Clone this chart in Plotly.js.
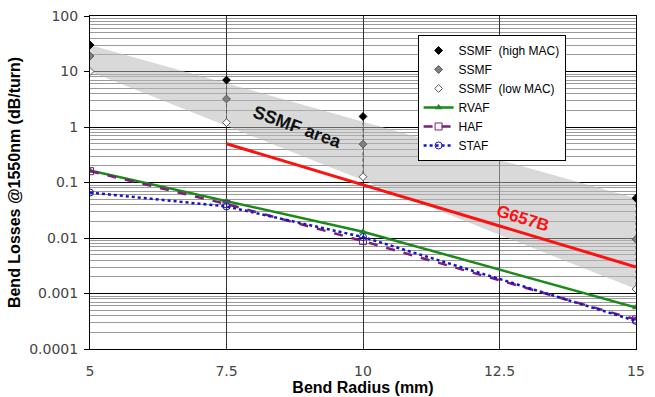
<!DOCTYPE html>
<html><head><meta charset="utf-8">
<script src="https://cdn.plot.ly/plotly-3.0.1.min.js"></script>
<style>html,body{margin:0;padding:0;background:#fff}#chart{width:655px;height:397px}</style>
</head><body><div id="chart"></div>
<script>
// Data
const radius = [5, 7.5, 10, 15];
const ssmfHighMAC = [30, 7.0, 1.55, 0.052];
const ssmf = [19, 3.2, 0.49, 0.0095];
const ssmfLowMAC = [10, 1.2, 0.127, 0.0012];
const rvaf = [0.165, 0.046, 0.013, 0.00056];
const haf = [0.16, 0.041, 0.0088, 0.00034];
const staf = [0.066, 0.037, 0.0104, 0.00032];
const g657bX = [7.5, 15];
const g657b = [0.5, 0.003];
const bandX = [5, 15];
const bandHigh = [30, 0.052];
const bandLow = [10, 0.0012];
const xTicks = [5, 7.5, 10, 12.5, 15];
const xTickText = ['5', '7.5', '10', '12.5', '15'];
const yTicks = [0.0001, 0.001, 0.01, 0.1, 1, 10, 100];
const yTickText = ['0.0001', '0.001', '0.01', '0.1', '1', '10', '100'];

// hi-lo connector lines between SSMF markers
const hlX = [], hlY = [];
radius.forEach((r, i) => { if (i > 0) { hlX.push(r, r, null); hlY.push(ssmfHighMAC[i], ssmfLowMAC[i], null); } });

const traces = [
  { x: bandX.concat(bandX.slice().reverse()), y: bandHigh.concat(bandLow.slice().reverse()),
    fill: 'toself', fillcolor: 'rgba(185,185,185,0.55)', line: {width: 0}, mode: 'lines',
    hoverinfo: 'skip', showlegend: false },
  { x: hlX, y: hlY, mode: 'lines', line: {color: '#555', width: 1, dash: 'dot'}, showlegend: false, hoverinfo: 'skip' },
  { x: g657bX, y: g657b, mode: 'lines', line: {color: '#ff1010', width: 3}, showlegend: false },
  { x: radius, y: ssmfHighMAC, name: 'SSMF  (high MAC)', mode: 'markers',
    marker: {symbol: 'diamond', size: 6, color: '#000', line: {color: '#000', width: 1}} },
  { x: radius, y: ssmf, name: 'SSMF', mode: 'markers',
    marker: {symbol: 'diamond', size: 6, color: '#808080', line: {color: '#555', width: 1}} },
  { x: radius, y: ssmfLowMAC, name: 'SSMF  (low MAC)', mode: 'markers',
    marker: {symbol: 'diamond', size: 6, color: '#fff', line: {color: '#555', width: 1}} },
  { x: radius, y: rvaf, name: 'RVAF', mode: 'lines+markers',
    line: {color: '#1a8a1a', width: 2.5}, marker: {symbol: 'triangle-up', size: 7, color: '#1a8a1a'} },
  { x: radius, y: haf, name: 'HAF', mode: 'lines+markers',
    line: {color: '#7a1f7a', width: 2.5, dash: 'dash'}, marker: {symbol: 'square-open', size: 7, color: '#7a1f7a'} },
  { x: radius, y: staf, name: 'STAF', mode: 'lines+markers',
    line: {color: '#1414c8', width: 2.5, dash: 'dot'}, marker: {symbol: 'circle-open', size: 7, color: '#1414c8'} }
];

const layout = {
  width: 655, height: 397,
  margin: {l: 90, r: 19, t: 16, b: 48},
  paper_bgcolor: '#fff', plot_bgcolor: '#fff',
  font: {family: 'Arial, Liberation Sans, sans-serif', color: '#000'},
  showlegend: true,
  legend: {x: 0.6, y: 0.943, xanchor: 'left', yanchor: 'top', bgcolor: '#fff',
    bordercolor: '#000', borderwidth: 1, font: {size: 12, color: '#000'}, itemwidth: 30},
  xaxis: {
    range: [5, 15], tickvals: xTicks, ticktext: xTickText,
    showgrid: true, gridcolor: '#333', gridwidth: 1,
    showline: true, linecolor: '#000', linewidth: 1, mirror: true,
    ticks: '', ticklabelstandoff: 9, zeroline: false,
    tickfont: {family: 'DejaVu Sans, sans-serif', size: 14, color: '#444'},
    title: {text: '<b>Bend Radius (mm)</b>', font: {size: 16, color: '#000'}, standoff: 0}
  },
  yaxis: {
    type: 'log', range: [-4, 2], tickvals: yTicks, ticktext: yTickText,
    showgrid: true, gridcolor: '#000', gridwidth: 1,
    showline: true, linecolor: '#000', linewidth: 1, mirror: true,
    ticks: 'outside', ticklen: 5, tickcolor: '#000', ticklabelstandoff: 3,
    tickfont: {family: 'DejaVu Sans, sans-serif', size: 14, color: '#444'},
    minor: {showgrid: true, gridcolor: '#9a9a9a', gridwidth: 1, dtick: 'D1', ticks: ''},
    title: {text: '<b>Bend Losses @1550nm (dB/turn)</b>', font: {size: 16, color: '#000'}, standoff: 4}
  },
  annotations: [
    {x: 8.8, y: 0.0, xref: 'x', yref: 'y', text: '<b>SSMF area</b>', showarrow: false,
      textangle: 20, font: {size: 18, color: '#111'}},
    {x: 12.93, y: -1.64, xref: 'x', yref: 'y', text: '<b>G657B</b>', showarrow: false,
      textangle: 17, font: {size: 17, color: '#ff1010'}}
  ]
};

Plotly.newPlot('chart', traces, layout, {displayModeBar: false, staticPlot: true});
</script></body></html>
